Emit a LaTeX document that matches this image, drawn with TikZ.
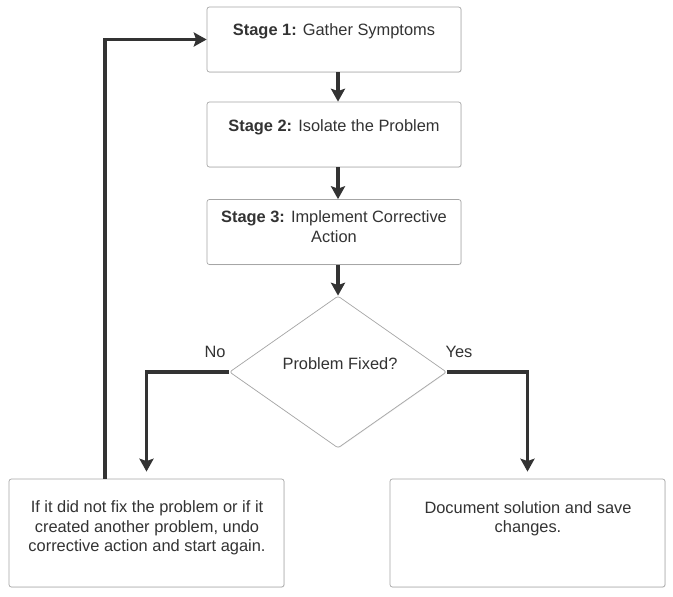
\documentclass[tikz,border=0pt]{standalone}
\usepackage{fontspec}
\setmainfont{Liberation Sans}
\usepackage{xcolor}
\usepackage{tikz}
\usetikzlibrary{arrows.meta,positioning,calc,shapes.geometric,shadows}

\definecolor{inkgray}{HTML}{333333}
\definecolor{edgegray}{HTML}{A6A6A6}

\begin{document}
\begin{tikzpicture}[
  x=0.03cm, y=-0.03cm,
  font=\fontsize{14pt}{16.6pt}\selectfont,
  stagebox/.style={draw=edgegray, fill=white, line width=0.6pt, rounded corners=2pt, minimum width=7.62cm, minimum height=1.95cm, inner sep=0pt, drop shadow={opacity=0.18, shadow xshift=0.5pt, shadow yshift=-0.5pt}},
  endbox/.style={draw=edgegray, fill=white, line width=0.6pt, rounded corners=2pt, minimum width=8.25cm, minimum height=3.24cm, inner sep=0pt, drop shadow={opacity=0.18, shadow xshift=0.5pt, shadow yshift=-0.5pt}},
  decision/.style={diamond, draw=edgegray, fill=white, line width=0.6pt, rounded corners=2pt, minimum width=6.51cm, minimum height=4.56cm, inner sep=0pt, drop shadow={opacity=0.18, shadow xshift=0.5pt, shadow yshift=-0.5pt}},
  txt/.style={text=inkgray, align=center, inner sep=0pt},
  flow/.style={draw=inkgray, line width=3.4pt, -{Stealth[length=11pt,width=12pt,inset=2pt]}},
  branch/.style={text=inkgray, inner sep=0pt}
]
\useasboundingbox (0,0) rectangle (673,597);

% boxes
\node[stagebox] (s1) at (334,39.5) {};
\node[stagebox] (s2) at (334,134.5) {};
\node[stagebox] (s3) at (334,232) {};
\node[decision] (fixed) at (338,372) {};
\node[endbox] (undo) at (146.5,533) {};
\node[endbox] (save) at (527.5,533) {};

% texts
\node[txt] (t1) at (334,31) {\textbf{Stage 1:} Gather Symptoms};
\node[txt] (t2) at (334,127) {\textbf{Stage 2:} Isolate the Problem};
\node[txt] (t3) at (334,226.5) {\textbf{Stage 3:} Implement Corrective\\Action};
\node[txt] (tq) at (340,364) {Problem Fixed?};
\node[txt] (tu) at (147,528) {If it did not fix the problem or if it\\created another problem, undo\\corrective action and start again.};
\node[txt] (ts) at (528,518.5) {Document solution and save\\changes.};

% branch labels
\node[branch] (no) at (215,352) {No};
\node[branch] (yes) at (459,352) {Yes};

% connectors
\draw[flow] (s1.south -| fixed.north) -- (s2.north -| fixed.north);
\draw[flow] (s2.south -| fixed.north) -- (s3.north -| fixed.north);
\draw[flow] (s3.south -| fixed.north) -- (fixed.north);
\draw[flow, shorten >=6pt, line join=miter] (fixed.west) -| (undo.north);
\draw[flow, shorten >=6pt, line join=miter] (fixed.east) -| (save.north);
\coordinate (back) at ($(undo.north west)+(96,0)$);
\draw[flow, line join=miter] (back) |- (s1.west);
\end{tikzpicture}
\end{document}
